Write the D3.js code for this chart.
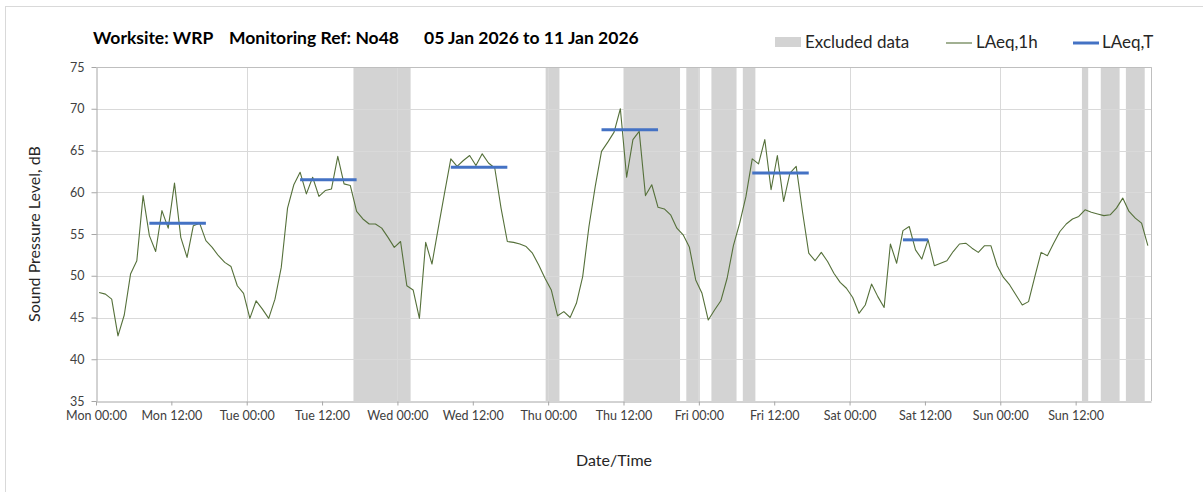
<!DOCTYPE html>
<html>
<head>
<meta charset="utf-8">
<script src="https://cdn.jsdelivr.net/npm/d3@7"></script>
<style>
  body { margin: 0; background: #fff; }
  svg { font-family: Lato, "Open Sans", sans-serif; }
</style>
</head>
<body>
<svg id="chart" width="1203" height="492"></svg>
<script>
//Chart data
const titleParts = ["Worksite: WRP", "Monitoring Ref: No48", "05 Jan 2026 to 11 Jan 2026"];
const weekStart = new Date(Date.UTC(2026, 0, 5));
const weekEnd = new Date(Date.UTC(2026, 0, 12));

//Hourly LAeq,1h values, one per hour from Mon 00:00 (plotted at the half hour)
const laeq1h = [
  48.0, 47.8, 47.2, 42.8, 45.3, 50.2, 51.8, 59.6, 54.8, 52.9, 57.8, 55.7,
  61.1, 54.6, 52.2, 56.0, 56.3, 54.2, 53.4, 52.4, 51.6, 51.1, 48.8, 47.9,
  44.9, 47.0, 46.0, 44.9, 47.2, 51.0, 58.1, 60.9, 62.4, 59.8, 61.8, 59.5,
  60.2, 60.4, 64.3, 61.0, 60.8, 57.7, 56.8, 56.2, 56.2, 55.7, 54.6, 53.4,
  54.1, 48.8, 48.3, 44.9, 54.0, 51.4, 55.7, 59.9, 64.0, 63.1, 63.8, 64.4,
  63.2, 64.6, 63.5, 62.9, 58.1, 54.1, 54.0, 53.8, 53.5, 52.7, 51.3, 49.7,
  48.3, 45.2, 45.7, 45.0, 46.7, 49.9, 55.9, 60.7, 64.9, 66.0, 67.2, 70.0,
  61.8, 66.3, 67.3, 59.6, 60.9, 58.2, 58.0, 57.3, 55.7, 54.9, 53.4, 49.5,
  47.9, 44.7, 45.9, 47.0, 49.7, 53.6, 56.3, 59.5, 64.0, 63.4, 66.3, 60.3,
  64.4, 58.9, 62.3, 63.1, 57.7, 52.7, 51.8, 52.8, 51.7, 50.3, 49.2, 48.5,
  47.4, 45.5, 46.5, 49.0, 47.5, 46.2, 53.8, 51.5, 55.4, 55.9, 53.1, 52.0,
  54.3, 51.2, 51.5, 51.8, 52.9, 53.8, 53.9, 53.3, 52.8, 53.6, 53.6, 51.2,
  49.8, 48.9, 47.7, 46.5, 46.9, 49.9, 52.8, 52.4, 53.9, 55.3, 56.2, 56.8,
  57.1, 57.9, 57.6, 57.4, 57.2, 57.3, 58.1, 59.3, 57.7, 56.9, 56.3, 53.6
];

//LAeq,T daytime periods (hours from Mon 00:00)
const periodStart = [8.5, 32.5, 56.5, 80.5, 104.5, 128.5];
const periodEnd   = [17.5, 41.5, 65.5, 89.5, 113.5, 132.5];
const periodValue = [56.3, 61.5, 63.0, 67.5, 62.3, 54.3];

//Excluded data windows (hours from Mon 00:00)
const excludedStart = [41.0, 71.6, 84.0, 94.0, 98.0, 103.0, 157.0, 160.0, 164.0];
const excludedEnd   = [50.1, 73.8, 93.0, 96.0, 102.0, 105.0, 158.0, 163.0, 167.0];

const yTicks = [35, 40, 45, 50, 55, 60, 65, 70, 75];

//Helpers
const hourMs = 3600 * 1000;
const atHour = (h) => new Date(weekStart.getTime() + h * hourMs);

//Layout
const plot = { left: 96, top: 67, width: 1055, height: 334 };

const svg = d3.select("#chart");

//Outer frame (only left and top edges fall inside the picture)
svg.append("rect")
  .attr("x", 5.5).attr("y", 6.5)
  .attr("width", 1210).attr("height", 500)
  .attr("fill", "none")
  .attr("stroke", "#d9d9d9");

const x = d3.scaleUtc()
  .domain([weekStart, weekEnd])
  .range([0, plot.width]);
const y = d3.scaleLinear()
  .domain([35, 75])
  .range([plot.height, 0]);

const g = svg.append("g")
  .attr("transform", `translate(${plot.left},${plot.top})`);

//Excluded bands
g.append("g").attr("id", "excluded")
  .selectAll("rect")
  .data(excludedStart.map((s, i) => [s, excludedEnd[i]]))
  .join("rect")
    .attr("x", (d) => x(atHour(d[0])))
    .attr("width", (d) => x(atHour(d[1])) - x(atHour(d[0])))
    .attr("y", 0)
    .attr("height", plot.height)
    .attr("fill", "#d3d3d3");

//Gridlines
g.append("g").attr("id", "hgrid")
  .selectAll("line")
  .data(yTicks.slice(1))
  .join("line")
    .attr("x1", 0).attr("x2", plot.width)
    .attr("y1", (d) => Math.round(y(d)) + 0.5)
    .attr("y2", (d) => Math.round(y(d)) + 0.5)
    .attr("stroke", "#d9d9d9");

const dayTicks = d3.utcDay.range(weekStart, weekEnd).slice(1);
dayTicks.push(weekEnd);
g.append("g").attr("id", "vgrid")
  .selectAll("line")
  .data(dayTicks)
  .join("line")
    .attr("x1", (d) => Math.round(x(d)) + 0.5)
    .attr("x2", (d) => Math.round(x(d)) + 0.5)
    .attr("y1", 0).attr("y2", plot.height)
    .attr("stroke", "#d9d9d9");

//LAeq,1h line
const line = d3.line()
  .x((d, i) => x(atHour(i + 0.5)))
  .y((d) => y(d));
g.append("path")
  .datum(laeq1h)
  .attr("fill", "none")
  .attr("stroke", "#55703a")
  .attr("stroke-width", 1.1)
  .attr("stroke-linejoin", "round")
  .attr("d", line);

//LAeq,T segments
g.append("g").attr("id", "laeqT")
  .selectAll("line")
  .data(periodValue.map((v, i) => ({ s: periodStart[i], e: periodEnd[i], v })))
  .join("line")
    .attr("x1", (d) => x(atHour(d.s)))
    .attr("x2", (d) => x(atHour(d.e)))
    .attr("y1", (d) => y(d.v))
    .attr("y2", (d) => y(d.v))
    .attr("stroke", "#4472c4")
    .attr("stroke-width", 3);

//Axes
const xAxis = d3.axisBottom(x)
  .tickValues(d3.utcHour.every(12).range(weekStart, weekEnd))
  .tickFormat(d3.utcFormat("%a %H:%M"))
  .tickSize(4)
  .tickSizeOuter(0);
const gx = g.append("g")
  .attr("transform", `translate(0,${plot.height + 0.5})`)
  .call(xAxis);
gx.selectAll("text")
  .attr("dy", "0.9em")
  .attr("font-size", 12.5)
  .attr("fill", "#404040");

const yAxis = d3.axisLeft(y)
  .tickValues(yTicks)
  .tickSize(5)
  .tickSizeOuter(0);
const gy = g.append("g")
  .attr("transform", "translate(0.5,0)")
  .call(yAxis);
gy.selectAll("text")
  .attr("x", -12)
  .attr("font-size", 12.5)
  .attr("fill", "#404040");

[gx, gy].forEach((ax) => {
  ax.select(".domain").attr("stroke", "#a6a6a6");
  ax.selectAll(".tick line").attr("stroke", "#a6a6a6");
  ax.selectAll("text").attr("font-family", "Lato, sans-serif");
});

//Plot border (top, right)
g.append("path")
  .attr("d", `M0,0.5H${plot.width + 0.5}V${plot.height}`)
  .attr("fill", "none")
  .attr("stroke", "#bfbfbf");

//Title, three parts spaced like the original
const titleX = [93, 229, 424];
svg.append("g")
  .selectAll("text")
  .data(titleParts)
  .join("text")
    .attr("x", (d, i) => titleX[i])
    .attr("y", 44)
    .attr("font-size", 17.5)
    .attr("font-weight", "bold")
    .attr("fill", "#000")
    .text((d) => d);

//Axis titles
svg.append("text")
  .attr("transform", "translate(40,234) rotate(-90)")
  .attr("text-anchor", "middle")
  .attr("font-size", 16)
  .attr("fill", "#262626")
  .text("Sound Pressure Level, dB");

svg.append("text")
  .attr("x", 614).attr("y", 466)
  .attr("text-anchor", "middle")
  .attr("font-size", 16)
  .attr("fill", "#262626")
  .text("Date/Time");

//Legend
const legend = svg.append("g").attr("font-size", 17).attr("fill", "#262626");
legend.append("rect")
  .attr("x", 775).attr("y", 37).attr("width", 26).attr("height", 10)
  .attr("fill", "#d3d3d3");
legend.append("text").attr("x", 805).attr("y", 48).text("Excluded data");
legend.append("line")
  .attr("x1", 946).attr("x2", 972).attr("y1", 43).attr("y2", 43)
  .attr("stroke", "#55703a").attr("stroke-width", 1.1);
legend.append("text").attr("x", 976).attr("y", 48).text("LAeq,1h");
legend.append("line")
  .attr("x1", 1073).attr("x2", 1099).attr("y1", 43).attr("y2", 43)
  .attr("stroke", "#4472c4").attr("stroke-width", 3);
legend.append("text").attr("x", 1102).attr("y", 48).text("LAeq,T");
</script>
</body>
</html>
